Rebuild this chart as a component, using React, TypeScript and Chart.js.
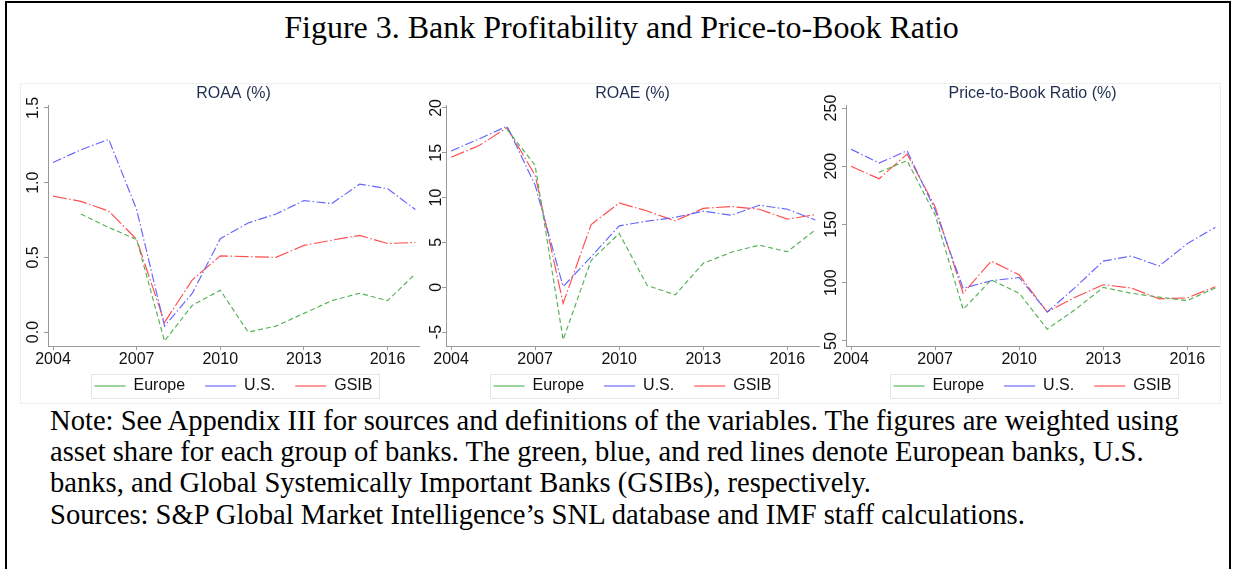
import React, { useEffect, useRef } from "react";
import { Chart, registerables } from "chart.js";

Chart.register(...registerables);

// ---------------- data ----------------
const YEARS = [2004, 2005, 2006, 2007, 2008, 2009, 2010, 2011, 2012, 2013, 2014, 2015, 2016, 2017];
const X_TICKS = [2004, 2007, 2010, 2013, 2016];
const SERIES_NAMES = ["Europe", "U.S.", "GSIB"];

const ROAA_EUROPE = [null, 0.79, 0.7, 0.62, -0.06, 0.18, 0.28, 0.0, 0.04, 0.125, 0.21, 0.26, 0.21, 0.39];
const ROAA_US = [1.135, 1.22, 1.29, 0.82, 0.04, 0.26, 0.625, 0.73, 0.79, 0.88, 0.86, 0.99, 0.96, 0.82];
const ROAA_GSIB = [0.91, 0.875, 0.81, 0.62, 0.065, 0.35, 0.51, 0.505, 0.5, 0.58, 0.615, 0.647, 0.593, 0.6];
const ROAA_TICKS = [0, 0.5, 1.0, 1.5];

const ROAE_EUROPE = [null, null, 17.6, 13.6, -5.85, 3.0, 6.0, 0.2, -0.85, 2.67, 3.9, 4.7, 3.96, 6.4];
const ROAE_US = [15.2, 16.55, 17.96, 11.4, 0.07, 3.4, 6.85, 7.37, 7.8, 8.48, 8.04, 9.15, 8.7, 7.5];
const ROAE_GSIB = [14.5, 15.8, 17.8, 12.5, -1.8, 7.0, 9.4, 8.5, 7.4, 8.8, 9.0, 8.7, 7.6, 8.1];
const ROAE_TICKS = [-5, 0, 5, 10, 15, 20];

const PB_EUROPE = [null, 194.9, 204.8, 158.2, 77.1, 102.5, 91, 60.2, 77, 96, 91, 87.6, 84.7, 95.5];
const PB_US = [214.7, 202.8, 213.3, 162.4, 95.2, 101.7, 104.5, 74.9, 96, 118.6, 122.9, 114.4, 133.6, 147.5];
const PB_GSIB = [200, 189.3, 210.5, 165.3, 91, 118.6, 106.8, 74.9, 87.6, 98.3, 95.5, 86.2, 87, 96.6];
const PB_TICKS = [50, 100, 150, 200, 250];

const FIGURE_TITLE = "Figure 3. Bank Profitability and Price-to-Book Ratio";
const NOTE_LINES = [
  "Note: See Appendix III for sources and definitions of the variables. The figures are weighted using",
  "asset share for each group of banks. The green, blue, and red lines denote European banks, U.S.",
  "banks, and Global Systemically Important Banks (GSIBs), respectively.",
  "Sources: S&P Global Market Intelligence\u2019s SNL database and IMF staff calculations.",
];

// ---------------- styles ----------------
const SANS = '"Liberation Sans", Arial, Helvetica, sans-serif';
const SERIF = '"Liberation Serif", "Times New Roman", Times, serif';
const COLORS = ["#52b152", "#6464ff", "#ff4d4d"];
const DASHES = [[5, 3], [9, 2.5, 1.5, 2.5], [14, 2.5, 1.5, 2.5]];
const AXIS = "#9a9a9a";
const TITLE_COLOR = "#1e2d50";

type PanelProps = {
  left: number;
  width: number;
  yAxisWidth: number;
  yPad: number;
  title: string;
  series: (number | null)[][];
  yMin: number;
  yMax: number;
  yTicks: number[];
  decimals: number;
};

const CANVAS_TOP = 80;
const CANVAS_H = 325;

function Panel(p: PanelProps) {
  const ref = useRef<HTMLCanvasElement>(null);
  useEffect(() => {
    if (!ref.current) return;
    const font = { family: SANS, size: 16 };
    const datasets = p.series.map((vals, k) => ({
      label: SERIES_NAMES[k],
      data: YEARS.map((x, i) => ({ x, y: vals[i] })),
      borderColor: COLORS[k],
      backgroundColor: COLORS[k],
      borderDash: DASHES[k],
      borderWidth: 1.15,
      pointRadius: 0,
      pointHoverRadius: 0,
      fill: false,
      tension: 0,
    }));
    const helper = {
      id: "helper",
      afterLayout(chart: any) {
        // let x tick labels extend below the (compact) axis box without being clipped
        const s = chart.scales.x;
        s.bottom = s.top + 30;
        s.height = 30;
      },
      afterDraw(chart: any) {
        const hb = chart.legend && chart.legend.legendHitBoxes;
        if (!hb || !hb.length) return;
        let l = Infinity, r = -Infinity, t = Infinity, b = -Infinity;
        hb.forEach((h: any) => {
          l = Math.min(l, h.left);
          r = Math.max(r, h.left + h.width);
          t = Math.min(t, h.top);
          b = Math.max(b, h.top + h.height);
        });
        const ctx = chart.ctx;
        ctx.save();
        ctx.strokeStyle = "#e2e8e8";
        ctx.lineWidth = 1;
        ctx.setLineDash([]);
        ctx.strokeRect(Math.round(l - 4) + 0.5, Math.round(t - 4) + 0.5, Math.round(r - l + 10), Math.round(b - t + 8));
        ctx.restore();
      },
    };
    const chart = new Chart(ref.current, {
      type: "line",
      data: { datasets: datasets as any },
      options: {
        animation: false,
        responsive: false,
        devicePixelRatio: 1,
        layout: { padding: { left: 0, right: 3, top: 0, bottom: 1 } },
        plugins: {
          tooltip: { enabled: false },
          title: {
            display: true,
            text: p.title,
            fullSize: false,
            color: TITLE_COLOR,
            font: { family: SANS, size: 16, weight: "normal" },
            padding: { top: 3.5, bottom: 2.3 },
          },
          legend: {
            display: true,
            position: "bottom",
            fullSize: false,
            align: "center",
            labels: {
              usePointStyle: true,
              pointStyle: "line",
              pointStyleWidth: 31,
              boxHeight: 16,
              padding: 20,
              font,
              color: "#111",
            },
          },
        },
        scales: {
          x: {
            type: "linear",
            min: 2003.82,
            max: 2017.13,
            afterBuildTicks: (s: any) => {
              s.ticks = X_TICKS.map((v) => ({ value: v }));
            },
            afterFit: (s: any) => {
              s.height = 12;
            },
            ticks: {
              autoSkip: false,
              maxRotation: 0,
              minRotation: 0,
              padding: 0,
              font,
              color: "#111",
              callback: (v: any) => String(v),
            },
            grid: { display: true, drawOnChartArea: false, drawTicks: true, tickLength: 4, color: AXIS, lineWidth: 1 },
            border: { display: true, color: AXIS, width: 1 },
          },
          y: {
            type: "linear",
            min: p.yMin,
            max: p.yMax,
            afterBuildTicks: (s: any) => {
              s.ticks = p.yTicks.map((v) => ({ value: v }));
            },
            afterFit: (s: any) => {
              s.width = p.yAxisWidth;
            },
            ticks: {
              autoSkip: false,
              minRotation: 90,
              maxRotation: 90,
              crossAlign: "center",
              padding: p.yPad,
              font,
              color: "#111",
              callback: (v: any) => Number(v).toFixed(p.decimals),
            },
            grid: { display: true, drawOnChartArea: false, drawTicks: true, tickLength: 4, color: AXIS, lineWidth: 1 },
            border: { display: true, color: AXIS, width: 1 },
          },
        },
      } as any,
      plugins: [helper],
    });
    return () => chart.destroy();
  }, []);
  return (
    <canvas
      ref={ref}
      width={p.width}
      height={CANVAS_H}
      style={{ position: "absolute", left: p.left, top: CANVAS_TOP, width: p.width, height: CANVAS_H }}
    />
  );
}

export default function App() {
  return (
    <div
      style={{
        position: "fixed",
        left: 0,
        top: 0,
        width: 1233,
        height: 569,
        background: "#fff",
        overflow: "hidden",
      }}
    >
      <div
        style={{
          position: "absolute",
          left: 5,
          top: 1,
          width: 1226,
          height: 640,
          border: "2px solid #000",
          boxSizing: "border-box",
        }}
      />
      <div
        style={{
          position: "absolute",
          left: 20,
          top: 83,
          width: 1201,
          height: 321,
          border: "1px solid #efefef",
          boxSizing: "border-box",
        }}
      />
      <div
        style={{
          position: "absolute",
          left: 5,
          top: 9.2,
          width: 1233,
          textAlign: "center",
          fontFamily: SERIF,
          fontSize: 32,
          lineHeight: "36px",
          color: "#000",
          whiteSpace: "nowrap",
        }}
      >
        {FIGURE_TITLE}
      </div>
      <Panel
        left={8}
        width={414}
        yAxisWidth={40}
        yPad={-1}
        title="ROAA (%)"
        series={[ROAA_EUROPE, ROAA_US, ROAA_GSIB]}
        yMin={-0.0933}
        yMax={1.52}
        yTicks={ROAA_TICKS}
        decimals={1}
      />
      <Panel
        left={410}
        width={412}
        yAxisWidth={36}
        yPad={-3}
        title="ROAE (%)"
        series={[ROAE_EUROPE, ROAE_US, ROAE_GSIB]}
        yMin={-6.556}
        yMax={20.33}
        yTicks={ROAE_TICKS}
        decimals={0}
      />
      <Panel
        left={810}
        width={412}
        yAxisWidth={36}
        yPad={-3}
        title="Price-to-Book Ratio (%)"
        series={[PB_EUROPE, PB_US, PB_GSIB]}
        yMin={45.7}
        yMax={252.6}
        yTicks={PB_TICKS}
        decimals={0}
      />
      <div
        style={{
          position: "absolute",
          left: 50,
          top: 404.7,
          fontFamily: SERIF,
          fontSize: 28.6,
          lineHeight: "31.3px",
          color: "#000",
          whiteSpace: "nowrap",
        }}
      >
        {NOTE_LINES.map((l, i) => (
          <div key={i}>{l}</div>
        ))}
      </div>
    </div>
  );
}
